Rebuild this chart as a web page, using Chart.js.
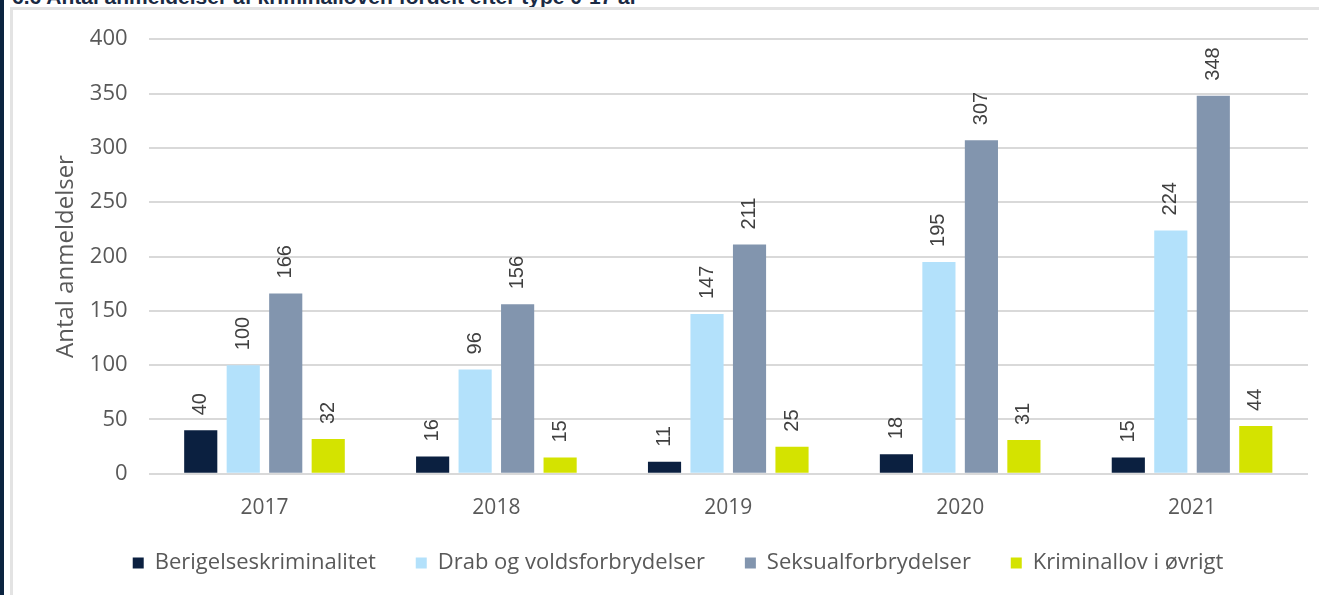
<!DOCTYPE html>
<html>
<head>
<meta charset="utf-8">
<script src="https://cdn.jsdelivr.net/npm/chart.js@4.4.1/dist/chart.umd.min.js"></script>
<style>
  html, body { margin: 0; padding: 0; background: #fff; overflow: hidden; }
  body { width: 1319px; height: 595px; position: relative; }
  #strip { position: absolute; left: 0; top: 0; width: 4px; height: 595px; background: #0b2440; }
  #title { position: absolute; left: 12px; top: -15px; font: bold 21px "Liberation Sans", sans-serif; color: #1a2a44; white-space: nowrap; }
  #frame { position: absolute; left: 10px; top: 7px; width: 1320px; height: 600px; border: 3px solid #e3e3e3; background: #fff; }
  #wrap { position: absolute; left: 13px; top: 5px; width: 1306px; height: 590px; }
</style>
</head>
<body>
<div id="strip"></div>
<div id="title">6.6 Antal anmeldelser af kriminalloven fordelt efter type 0-17 år</div>
<div id="frame"></div>
<div id="wrap"><canvas id="myChart"></canvas></div>
<script>
const years = ['2017', '2018', '2019', '2020', '2021'];
const seriesNames = ['Berigelseskriminalitet', 'Drab og voldsforbrydelser', 'Seksualforbrydelser', 'Kriminallov i øvrigt'];
const berigelse = [40, 16, 11, 18, 15];
const drab = [100, 96, 147, 195, 224];
const seksual = [166, 156, 211, 307, 348];
const oevrigt = [32, 15, 25, 31, 44];
const colors = ['#0b2040', '#b3e1fb', '#8295ae', '#d4e300'];

// vertical value labels above each bar
const valueLabels = {
    id: 'valueLabels',
    afterDatasetsDraw(chart) {
        const ctx = chart.ctx;
        ctx.save();
        ctx.font = '20px "Liberation Sans", sans-serif';
        ctx.fillStyle = '#404040';
        ctx.textAlign = 'left';
        ctx.textBaseline = 'middle';
        chart.data.datasets.forEach((ds, i) => {
            chart.getDatasetMeta(i).data.forEach((bar, j) => {
                ctx.save();
                ctx.translate(bar.x, bar.y - 15);
                ctx.rotate(-Math.PI / 2);
                ctx.fillText(ds.data[j], 0, 0);
                ctx.restore();
            });
        });
        ctx.restore();
    }
};

const gap = '\u00a0\u00a0\u00a0\u00a0';

new Chart(
    document.getElementById('myChart').getContext('2d'), {
        type: 'bar',
        data: {
            labels: years,
            datasets: [
                { label: seriesNames[0], data: berigelse, backgroundColor: colors[0] },
                { label: seriesNames[1], data: drab, backgroundColor: colors[1] },
                { label: seriesNames[2], data: seksual, backgroundColor: colors[2] },
                { label: seriesNames[3], data: oevrigt, backgroundColor: colors[3] }
            ]
        },
        options: {
            responsive: true,
            maintainAspectRatio: false,
            animation: false,
            categoryPercentage: 0.733,
            barPercentage: 0.78,
            layout: { padding: { left: 35, right: 11, top: 15, bottom: 11 } },
            scales: {
                x: {
                    grid: { display: false },
                    border: { display: false },
                    ticks: { color: '#595959', font: { family: 'Open Sans', size: 21 }, padding: 14 }
                },
                y: {
                    min: 0,
                    max: 400,
                    ticks: { stepSize: 50, color: '#595959', font: { family: 'Open Sans', size: 22 }, padding: 21 },
                    grid: { color: '#d9d9d9', lineWidth: 2, drawTicks: false },
                    border: { display: false },
                    title: { display: true, text: 'Antal anmeldelser', color: '#595959', font: { family: 'Open Sans', size: 24 }, padding: { top: 4, bottom: -12 } }
                }
            },
            plugins: {
                legend: {
                    position: 'bottom',
                    labels: {
                        boxWidth: 11,
                        boxHeight: 11,
                        padding: 17,
                        color: '#595959',
                        font: { family: 'Open Sans', size: 22 },
                        generateLabels(chart) {
                            return chart.data.datasets.map((ds, i) => ({
                                text: ds.label + (i < chart.data.datasets.length - 1 ? gap : ''),
                                fillStyle: ds.backgroundColor,
                                strokeStyle: ds.backgroundColor,
                                lineWidth: 0,
                                fontColor: '#595959',
                                datasetIndex: i
                            }));
                        }
                    }
                },
                tooltip: { enabled: false }
            }
        },
        plugins: [valueLabels]
    }
);
</script>
</body>
</html>
